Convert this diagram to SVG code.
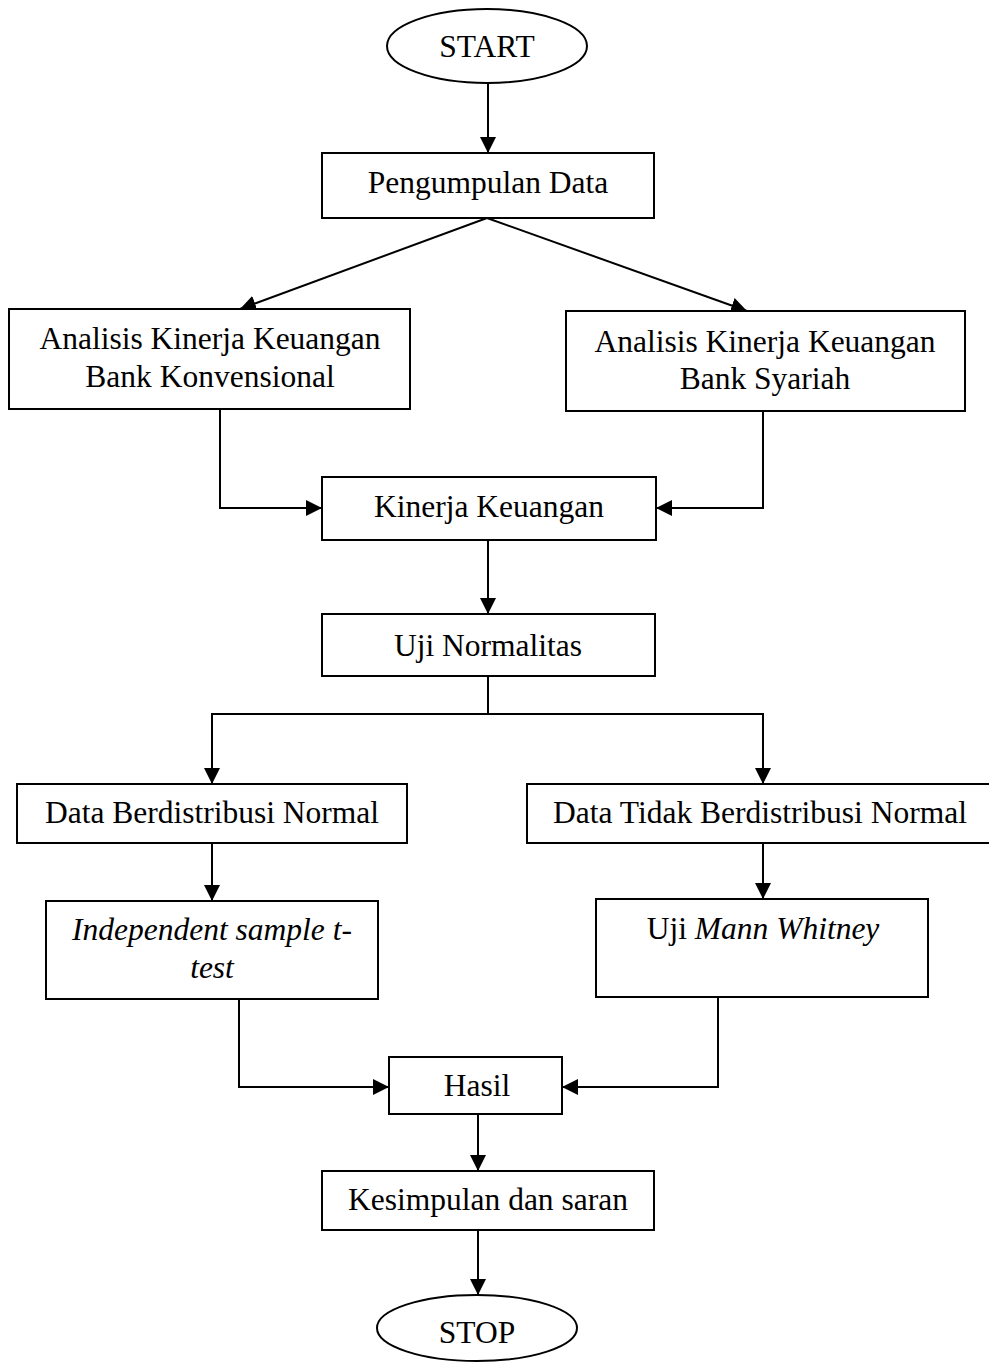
<svg xmlns="http://www.w3.org/2000/svg" width="989" height="1365" viewBox="0 0 989 1365">
<style>
.box{fill:#fff;stroke:#000;stroke-width:2}
.t{font-family:"Liberation Serif","Times New Roman",serif;font-size:31.5px;fill:#000;text-anchor:middle}
.i{font-style:italic}
.c{fill:none;stroke:#000;stroke-width:2;marker-end:url(#ah)}
</style>
<defs>
<marker id="ah" markerUnits="userSpaceOnUse" markerWidth="17" markerHeight="16" refX="16" refY="8" orient="auto">
<path d="M0,0 L16,8 L0,16 Z" fill="#000"/>
</marker>
</defs>
<rect width="989" height="1365" fill="#fff"/>
<g id="connectors">
<path class="c" d="M488,83 V153"/>
<path class="c" d="M487,218 L240,309"/>
<path class="c" d="M487,218 L747,311"/>
<path class="c" d="M220,409 V508 H322"/>
<path class="c" d="M763,411 V508 H656"/>
<path class="c" d="M488,540 V614"/>
<path fill="none" stroke="#000" stroke-width="2" d="M488,676 V714"/>
<path class="c" d="M488,714 H212 V784"/>
<path class="c" d="M488,714 H763 V784"/>
<path class="c" d="M212,843 V901"/>
<path class="c" d="M763,843 V899"/>
<path class="c" d="M239,999 V1087 H389"/>
<path class="c" d="M718,997 V1087 H562"/>
<path class="c" d="M478,1114 V1171"/>
<path class="c" d="M478,1230 V1295"/>
</g>
<g id="start"><ellipse class="box" cx="487" cy="46" rx="100" ry="37"/><text class="t" x="487" y="57">START</text></g>
<g id="pengumpulan"><rect class="box" x="322" y="153" width="332" height="65"/><text class="t" x="488" y="193">Pengumpulan Data</text></g>
<g id="analisis-konv"><rect class="box" x="9" y="309" width="401" height="100"/><text class="t" x="210" y="349">Analisis Kinerja Keuangan</text><text class="t" x="210" y="387">Bank Konvensional</text></g>
<g id="analisis-syariah"><rect class="box" x="566" y="311" width="399" height="100"/><text class="t" x="765" y="352">Analisis Kinerja Keuangan</text><text class="t" x="765" y="389">Bank Syariah</text></g>
<g id="kinerja"><rect class="box" x="322" y="477" width="334" height="63"/><text class="t" x="489" y="517">Kinerja Keuangan</text></g>
<g id="uji-normalitas"><rect class="box" x="322" y="614" width="333" height="62"/><text class="t" x="488" y="656">Uji Normalitas</text></g>
<g id="normal"><rect class="box" x="17" y="784" width="390" height="59"/><text class="t" x="212" y="823">Data Berdistribusi Normal</text></g>
<g id="tidak-normal"><rect class="box" x="527" y="784" width="470" height="59"/><text class="t" x="760" y="823">Data Tidak Berdistribusi Normal</text></g>
<g id="independent"><rect class="box" x="46" y="901" width="332" height="98"/><text class="t i" x="212" y="940">Independent sample t-</text><text class="t i" x="212" y="978">test</text></g>
<g id="mann"><rect class="box" x="596" y="899" width="332" height="98"/><text class="t" x="763" y="939">Uji <tspan class="i">Mann Whitney</tspan></text></g>
<g id="hasil"><rect class="box" x="389" y="1057" width="173" height="57"/><text class="t" x="477" y="1096">Hasil</text></g>
<g id="kesimpulan"><rect class="box" x="322" y="1171" width="332" height="59"/><text class="t" x="488" y="1210">Kesimpulan dan saran</text></g>
<g id="stop"><ellipse class="box" cx="477" cy="1328" rx="100" ry="33"/><text class="t" x="477" y="1343">STOP</text></g>
</svg>
